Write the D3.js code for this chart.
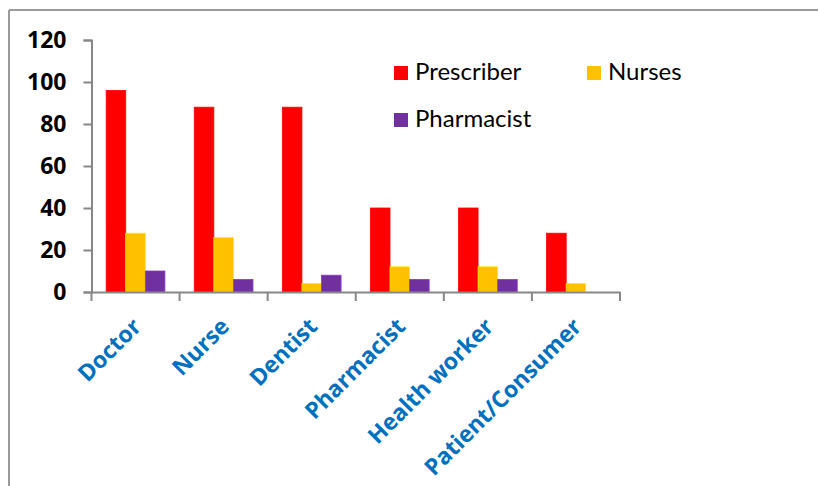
<!DOCTYPE html>
<html>
<head>
<meta charset="utf-8">
<script src="https://cdn.jsdelivr.net/npm/d3@7"></script>
<style>
  html, body { margin: 0; padding: 0; background: #fff; }
  svg { display: block; }
</style>
</head>
<body>
<svg id="chart" width="818" height="486"></svg>
<script>
// Categories of information source and the three respondent groups
const categories = ["Doctor", "Nurse", "Dentist", "Pharmacist", "Health worker", "Patient/Consumer"];
const seriesNames = ["Prescriber", "Nurses", "Pharmacist"];
const prescriber = [96, 88, 88, 40, 40, 28];
const nurses = [28, 26, 4, 12, 12, 4];
const pharmacist = [10, 6, 8, 6, 6, 0];
const yTicks = [0, 20, 40, 60, 80, 100, 120];
const colors = ["#FF0000", "#FFC000", "#7030A0"];

const seriesValues = [prescriber, nurses, pharmacist];

const svg = d3.select("#chart");
const W = 818, H = 486;

svg.append("rect").attr("width", W).attr("height", H).attr("fill", "#fff");

// Outer frame (top and left edges)
svg.append("line").attr("x1", 9).attr("y1", 10).attr("x2", W).attr("y2", 10)
  .attr("stroke", "#9a9a9a").attr("stroke-width", 2);
svg.append("line").attr("x1", 9).attr("y1", 10).attr("x2", 9).attr("y2", H)
  .attr("stroke", "#9a9a9a").attr("stroke-width", 2);

const plot = { left: 91.5, right: 620, top: 40, bottom: 292 };

const x0 = d3.scaleBand()
  .domain(categories)
  .range([plot.left, plot.right])
  .paddingInner(0)
  .paddingOuter(0);

// bar group: three bars with a 150% gap
const groupWidth = x0.bandwidth() * 3 / 4.5;
const x1 = d3.scaleBand()
  .domain(seriesNames)
  .range([0, groupWidth]);

const y = d3.scaleLinear().domain([0, 120]).range([plot.bottom, plot.top]);

// Bars
const g = svg.append("g");
categories.forEach((cat, i) => {
  const gx = x0(cat) + (x0.bandwidth() - groupWidth) / 2;
  seriesNames.forEach((s, j) => {
    const v = seriesValues[j][i];
    if (v <= 0) return;
    g.append("rect")
      .attr("x", gx + x1(s))
      .attr("y", y(v))
      .attr("width", x1.bandwidth())
      .attr("height", y(0) - y(v))
      .attr("fill", colors[j])
      .attr("stroke", d3.color(colors[j]).brighter(0.6))
      .attr("stroke-width", 0.8);
  });
});

// Y axis
const yAxis = d3.axisLeft(y).tickValues(yTicks).tickSize(8).tickPadding(17);
const ya = svg.append("g").attr("transform", `translate(${plot.left},0)`).call(yAxis);
ya.select(".domain").attr("stroke", "#878787").attr("stroke-width", 2);
ya.selectAll(".tick line").attr("stroke", "#878787").attr("stroke-width", 2);
ya.selectAll(".tick text")
  .attr("fill", "#000")
  .style("font-family", "'Open Sans', Lato, sans-serif")
  .style("font-weight", "bold")
  .style("font-size", "23px");

// X axis
const xAxis = d3.axisBottom(x0).tickSize(0).tickFormat("");
const xa = svg.append("g").attr("transform", `translate(0,${plot.bottom})`).call(xAxis);
xa.select(".domain").attr("stroke", "#878787").attr("stroke-width", 2);
// category boundary ticks
const bounds = categories.map(c => x0(c)).concat([plot.right]);
xa.selectAll(".bound").data(bounds).enter().append("line")
  .attr("x1", d => d).attr("x2", d => d)
  .attr("y1", 0).attr("y2", 9)
  .attr("stroke", "#878787").attr("stroke-width", 2);

// Rotated category labels
svg.append("g").selectAll("text").data(categories).enter().append("text")
  .attr("transform", d => `translate(${x0(d) + x0.bandwidth() / 2 + 7},${plot.bottom + 36}) rotate(-45)`)
  .attr("text-anchor", "end")
  .attr("fill", "#0070C0")
  .style("font-family", "'Open Sans', Lato, sans-serif")
  .style("font-weight", "bold")
  .style("font-size", "23px")
  .text(d => d);

// Legend
const legendItems = [
  { name: seriesNames[0], color: colors[0], x: 394, y: 66 },
  { name: seriesNames[1], color: colors[1], x: 587, y: 66 },
  { name: seriesNames[2], color: colors[2], x: 394, y: 113 }
];
const lg = svg.append("g");
legendItems.forEach(it => {
  lg.append("rect").attr("x", it.x).attr("y", it.y).attr("width", 14).attr("height", 14).attr("fill", it.color);
  lg.append("text").attr("x", it.x + 21).attr("y", it.y + 13.5)
    .attr("fill", "#000")
    .style("font-family", "Lato, 'Open Sans', sans-serif")
    .style("font-size", "24px")
    .text(it.name);
});
</script>
</body>
</html>
